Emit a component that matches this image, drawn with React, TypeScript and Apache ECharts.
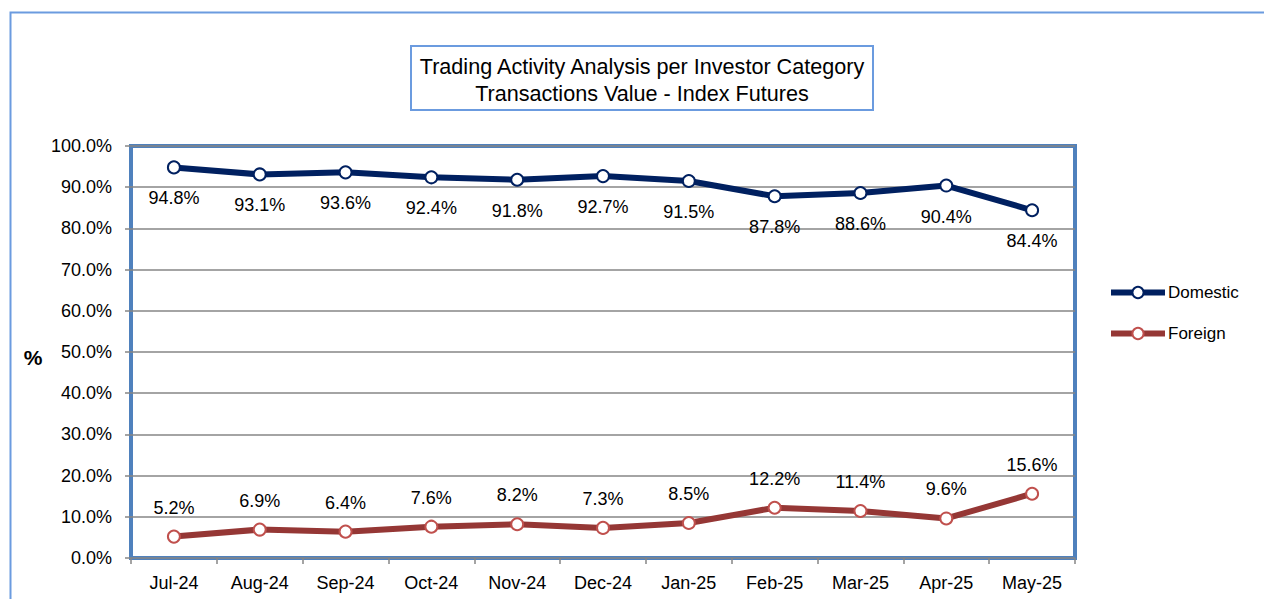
import React, { useEffect, useRef } from "react";
import * as echarts from "echarts";

const categories = ["Jul-24", "Aug-24", "Sep-24", "Oct-24", "Nov-24", "Dec-24", "Jan-25", "Feb-25", "Mar-25", "Apr-25", "May-25"];
const domestic = [94.8, 93.1, 93.6, 92.4, 91.8, 92.7, 91.5, 87.8, 88.6, 90.4, 84.4];
const foreign = [5.2, 6.9, 6.4, 7.6, 8.2, 7.3, 8.5, 12.2, 11.4, 9.6, 15.6];
const titleLines = ["Trading Activity Analysis per Investor Category", "Transactions Value - Index Futures"];

const FONT = "'Liberation Sans', Arial, sans-serif";

export default function App() {
  const ref = useRef<HTMLDivElement>(null);
  useEffect(() => {
    if (!ref.current) return;
    const chart = echarts.init(ref.current, null, { renderer: "svg" });
    chart.setOption({
      animation: false,
      backgroundColor: "#ffffff",
      textStyle: { fontFamily: FONT },
      grid: {
        left: 131, top: 146, width: 944, height: 412,
        show: true, borderColor: "#4F81BD", borderWidth: 4, backgroundColor: "transparent",
      },
      graphic: [
        { type: "rect", left: 8, top: 10, shape: { x: 0, y: 0, width: 1300, height: 700 }, style: { fill: "none", stroke: "#6B9BDF", lineWidth: 2 }, z: -10 },
        { type: "rect", shape: { x: 411, y: 46, width: 462, height: 64 }, style: { fill: "#fff", stroke: "#6B9BDF", lineWidth: 2 } },
        { type: "text", x: 642, y: 66, style: { text: titleLines[0], font: `21.6px ${FONT}`, fill: "#000", align: "center", verticalAlign: "middle" } },
        { type: "text", x: 642, y: 93, style: { text: titleLines[1], font: `21.6px ${FONT}`, fill: "#000", align: "center", verticalAlign: "middle" } },
        { type: "text", x: 33, y: 357, style: { text: "%", font: `bold 21px ${FONT}`, fill: "#000", align: "center", verticalAlign: "middle" } },
      ],
      legend: {
        orient: "vertical", left: 1108, top: 284, padding: 0, itemWidth: 54, itemHeight: 14, itemGap: 24,
        textStyle: { fontFamily: FONT, fontSize: 17, color: "#000", padding: [0, 0, 0, -2] },
        data: [
          { name: "Domestic", lineStyle: { width: 6 } },
          { name: "Foreign", lineStyle: { width: 6 } },
        ],
      },
      xAxis: {
        type: "category", data: categories, boundaryGap: true,
        axisLine: { show: false },
        axisTick: { show: true, length: 6, lineStyle: { color: "#868686", width: 1.5 } },
        axisLabel: { color: "#000", fontSize: 18, fontFamily: FONT, margin: 16 },
      },
      yAxis: {
        type: "value", min: 0, max: 100, interval: 10,
        axisLine: { show: false },
        axisTick: { show: true, length: 6, lineStyle: { color: "#868686", width: 1.5 } },
        axisLabel: { color: "#000", fontSize: 18, fontFamily: FONT, margin: 19, formatter: (v: number) => v.toFixed(1) + "%" },
        splitLine: { show: true, lineStyle: { color: "#868686", width: 1.5 } },
      },
      series: [
        {
          name: "Domestic", type: "line", data: domestic, symbol: "circle", symbolSize: 12,
          lineStyle: { color: "#002060", width: 6 },
          itemStyle: { color: "#ffffff", borderColor: "#002060", borderWidth: 2 },
          label: { show: true, position: "bottom", distance: 15, fontSize: 18, fontFamily: FONT, color: "#000", formatter: (p: any) => p.value.toFixed(1) + "%" },
        },
        {
          name: "Foreign", type: "line", data: foreign, symbol: "circle", symbolSize: 12,
          lineStyle: { color: "#953735", width: 6 },
          itemStyle: { color: "#ffffff", borderColor: "#C0504D", borderWidth: 2 },
          label: { show: true, position: "top", distance: 13, fontSize: 18, fontFamily: FONT, color: "#000", formatter: (p: any) => p.value.toFixed(1) + "%" },
        },
      ],
    });
    return () => chart.dispose();
  }, []);
  return <div ref={ref} style={{ position: "absolute", left: 0, top: 0, width: 1264, height: 599 }} />;
}
